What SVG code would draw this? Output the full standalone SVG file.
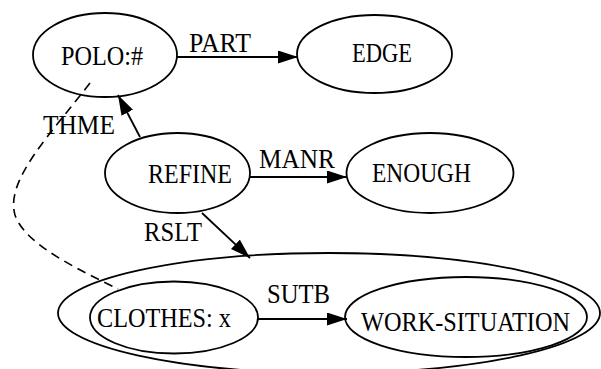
<svg xmlns="http://www.w3.org/2000/svg" width="601" height="369" viewBox="0 0 601 369">
<style>
  .n { fill: none; stroke: #000; stroke-width: 1.8; }
  .e { fill: none; stroke: #000; stroke-width: 1.8; }
  .d { fill: none; stroke: #000; stroke-width: 1.6; stroke-dasharray: 9 6; }
  text { font-family: "Liberation Serif", serif; font-size: 27px; fill: #000; }
</style>
<defs>
  <marker id="arr" markerUnits="userSpaceOnUse" markerWidth="22" markerHeight="14" refX="20" refY="6.5" orient="auto">
    <path d="M0,0 L20,6.5 L0,13 z" fill="#000"/>
  </marker>
</defs>
<rect width="601" height="369" fill="#fff"/>
<g id="situation">
  <ellipse class="n" cx="329" cy="313" rx="271" ry="60"/>
</g>
<g id="polo">
  <ellipse class="n" cx="105" cy="55" rx="72" ry="42"/>
  <text x="61" y="65" textLength="82" lengthAdjust="spacingAndGlyphs">POLO:#</text>
</g>
<g id="edge">
  <ellipse class="n" cx="374.5" cy="54" rx="77.5" ry="39"/>
  <text x="352" y="62" textLength="60" lengthAdjust="spacingAndGlyphs">EDGE</text>
</g>
<g id="refine">
  <ellipse class="n" cx="177.5" cy="173" rx="72.5" ry="40"/>
  <text x="148" y="183" textLength="84" lengthAdjust="spacingAndGlyphs">REFINE</text>
</g>
<g id="enough">
  <ellipse class="n" cx="430" cy="173" rx="83.5" ry="40"/>
  <text x="372" y="182" textLength="99" lengthAdjust="spacingAndGlyphs">ENOUGH</text>
</g>
<g id="clothes">
  <ellipse class="n" cx="174" cy="317.5" rx="84" ry="36"/>
  <text x="97" y="327" textLength="134" lengthAdjust="spacingAndGlyphs">CLOTHES: x</text>
</g>
<g id="work-situation">
  <ellipse class="n" cx="466" cy="317" rx="121" ry="40"/>
  <text x="361" y="331" textLength="209" lengthAdjust="spacingAndGlyphs">WORK-SITUATION</text>
</g>
<g id="connectors">
  <line class="e" x1="177" y1="57" x2="298" y2="57" marker-end="url(#arr)"/>
  <text x="189" y="52" textLength="62" lengthAdjust="spacingAndGlyphs">PART</text>
  <line class="e" x1="140" y1="137" x2="118" y2="95" marker-end="url(#arr)"/>
  <text x="43" y="134" textLength="72" lengthAdjust="spacingAndGlyphs">THME</text>
  <line class="e" x1="250" y1="177" x2="347" y2="177" marker-end="url(#arr)"/>
  <text x="259" y="168" textLength="76" lengthAdjust="spacingAndGlyphs">MANR</text>
  <line class="e" x1="202" y1="213" x2="250" y2="258" marker-end="url(#arr)"/>
  <text x="144" y="241" textLength="58" lengthAdjust="spacingAndGlyphs">RSLT</text>
  <line class="e" x1="258" y1="319" x2="347" y2="319" marker-end="url(#arr)"/>
  <text x="267" y="303" textLength="63" lengthAdjust="spacingAndGlyphs">SUTB</text>
  <path class="d" d="M90,83 C50,135 5,180 15,215 C25,245 80,270 118,289"/>
</g>
</svg>
